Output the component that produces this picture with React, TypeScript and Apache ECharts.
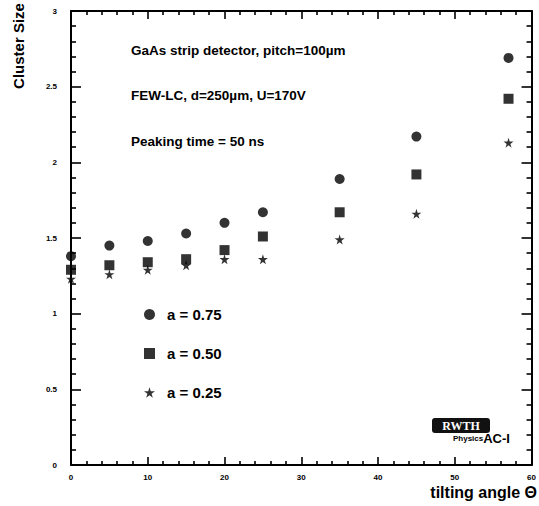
import React, { useEffect, useRef } from "react";
import * as echarts from "echarts";

// tilting angle (degrees)
const angles = [0, 5, 10, 15, 20, 25, 35, 45, 57];
// mean cluster size for each charge-sharing parameter a
const clusterA075 = [1.38, 1.45, 1.48, 1.53, 1.6, 1.67, 1.89, 2.17, 2.69];
const clusterA050 = [1.29, 1.32, 1.34, 1.36, 1.42, 1.51, 1.67, 1.92, 2.42];
const clusterA025 = [1.23, 1.26, 1.29, 1.32, 1.36, 1.36, 1.49, 1.66, 2.13];
const seriesNames = ["a = 0.75", "a = 0.50", "a = 0.25"];
const infoLines = [
  "GaAs strip detector, pitch=100µm",
  "FEW-LC, d=250µm, U=170V",
  "Peaking time = 50 ns",
];

const FONT = "'Liberation Sans', Arial, Helvetica, sans-serif";
const STAR =
  "path://M50,0 L61,35 L98,35 L68,57 L79,91 L50,70 L21,91 L32,57 L2,35 L39,35 Z";

const pairs = (ys: number[]) => angles.map((x, i) => [x, ys[i]]);

// one side of the frame: thick black line with inward major and minor ticks
function frameAxis(kind: string, position: string, labels: boolean) {
  const isX = kind === "x";
  return {
    type: "value",
    min: 0,
    max: isX ? 60 : 3,
    interval: isX ? 10 : 0.5,
    position,
    axisLine: { show: true, onZero: false, lineStyle: { color: "#000", width: 2 } },
    axisTick: {
      show: true,
      inside: true,
      length: isX ? 8 : 10,
      lineStyle: { color: "#000", width: 1.6 },
    },
    minorTick: {
      show: true,
      splitNumber: 5,
      length: isX ? 4 : 5,
      lineStyle: { color: "#000", width: 1.6 },
    },
    splitLine: { show: false },
    axisLabel: labels
      ? {
          show: true,
          color: "#000",
          fontFamily: FONT,
          fontWeight: "bold",
          fontSize: 8,
          margin: isX ? 8 : 14,
        }
      : { show: false },
  };
}

export default function App() {
  const ref = useRef<HTMLDivElement>(null);

  useEffect(() => {
    document.body.style.margin = "0";
    if (!ref.current) return;
    const chart = echarts.init(ref.current, undefined, { renderer: "svg" });

    chart.setOption({
      animation: false,
      grid: { left: 71, right: 2, top: 11, bottom: 41 },
      xAxis: [frameAxis("x", "bottom", true), frameAxis("x", "top", false)],
      yAxis: [frameAxis("y", "left", true), frameAxis("y", "right", false)],
      legend: {
        orient: "vertical",
        left: 139,
        top: 302,
        itemWidth: 11,
        itemHeight: 11,
        itemGap: 24,
        data: seriesNames,
        textStyle: {
          color: "#000",
          fontFamily: FONT,
          fontWeight: "bold",
          fontSize: 15,
          padding: [0, 0, 0, 7],
        },
      },
      series: [
        {
          name: seriesNames[0],
          type: "scatter",
          symbol: "circle",
          symbolSize: 10,
          itemStyle: { color: "#000" },
          data: pairs(clusterA075),
        },
        {
          name: seriesNames[1],
          type: "scatter",
          symbol: "rect",
          symbolSize: 10,
          itemStyle: { color: "#000" },
          data: pairs(clusterA050),
        },
        {
          name: seriesNames[2],
          type: "scatter",
          symbol: STAR,
          symbolSize: 10,
          itemStyle: { color: "#000" },
          data: pairs(clusterA025),
        },
      ],
      graphic: [
        ...infoLines.map((t, i) => ({
          type: "text",
          x: 131,
          y: 50 + i * 45.5,
          style: {
            text: t,
            fill: "#000",
            font: `bold 13.5px ${FONT}`,
            verticalAlign: "middle",
          },
        })),
        {
          type: "text",
          x: 18,
          y: 46,
          rotation: Math.PI / 2,
          style: {
            text: "Cluster Size",
            fill: "#000",
            font: `bold 15px ${FONT}`,
            align: "center",
            verticalAlign: "middle",
          },
        },
        {
          type: "text",
          right: 2,
          top: 484,
          style: { text: "tilting angle Θ", fill: "#000", font: `bold 16px ${FONT}` },
        },
        {
          type: "rect",
          shape: { x: 432, y: 418, width: 58, height: 15, r: 3 },
          style: { fill: "#111" },
        },
        {
          type: "text",
          x: 461,
          y: 425.5,
          style: {
            text: "RWTH",
            fill: "#fff",
            font: `bold 12px serif`,
            align: "center",
            verticalAlign: "middle",
          },
        },
        {
          type: "text",
          x: 453,
          y: 432,
          style: {
            text: "{s|Physics}{b|AC-I}",
            fill: "#000",
            rich: {
              s: { fontFamily: FONT, fontWeight: "bold", fontSize: 8, fill: "#000" },
              b: { fontFamily: FONT, fontWeight: "bold", fontSize: 13, fill: "#000" },
            },
          },
        },
      ],
    });

    return () => chart.dispose();
  }, []);

  return <div ref={ref} style={{ width: 539, height: 506 }} />;
}
